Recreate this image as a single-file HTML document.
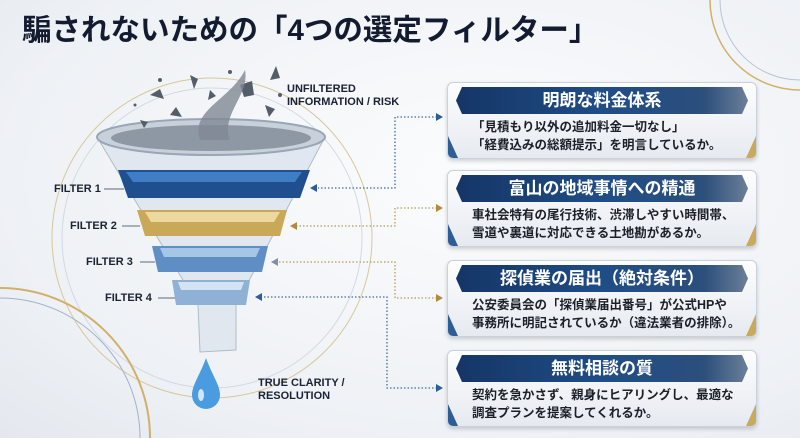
<!DOCTYPE html>
<html style="width:800px;height:438px;overflow:hidden"><head><meta charset="utf-8"><style>
*{margin:0;padding:0;box-sizing:border-box}
body{width:800px;height:438px;overflow:hidden;background:radial-gradient(ellipse at 60% 40%,#fbfcfd 0%,#eef1f5 70%,#e4e8ee 100%);font-family:"Liberation Sans","Noto Sans CJK JP",sans-serif;position:relative}
h1{position:absolute;left:22px;top:13px;font-size:29.5px;line-height:36px;font-weight:bold;color:#121b30;white-space:nowrap}
.box{position:absolute;left:447px;width:310px;height:77px;border-radius:6px;background:linear-gradient(#fdfdfe,#e6eaf0);border:1px solid #c9d1dc;box-shadow:0 2px 4px rgba(0,0,0,.18);overflow:hidden}
.box:before{content:"";position:absolute;left:0;bottom:0;width:10px;height:22px;background:#2d5c96;clip-path:polygon(0 0,100% 100%,0 100%)}
.box:after{content:"";position:absolute;right:0;bottom:0;width:10px;height:22px;background:#c9a95c;clip-path:polygon(100% 0,100% 100%,0 100%)}
.hd{position:absolute;left:8px;top:4px;width:292px;height:27px;background:linear-gradient(90deg,#153566,#1f4d86 50%,#2c4f7c 85%,#6b7f99);color:#fff;font-weight:bold;font-size:17px;text-align:center;line-height:27px;clip-path:polygon(6px 0,calc(100% - 6px) 0,100% 50%,calc(100% - 6px) 100%,6px 100%,0 50%)}
.bd{position:absolute;left:24px;top:35px;font-size:12.5px;line-height:18px;color:#1b1f28;font-weight:bold;white-space:nowrap}
.lbl{position:absolute;font-size:11px;font-weight:bold;color:#1a2233;white-space:nowrap}
</style></head><body>
<h1>騙されないための「4つの選定フィルター」</h1>
<svg width="800" height="438" style="position:absolute;left:0;top:0;display:block">
<circle cx="212" cy="238" r="160" fill="none" stroke="#d8c79a" stroke-width="1"/>
<circle cx="212" cy="238" r="150" fill="none" stroke="#d2d9e3" stroke-width="1"/>
<circle cx="0" cy="438" r="150" fill="none" stroke="#d2b06a" stroke-width="2"/>
<circle cx="0" cy="438" r="140" fill="none" stroke="#9eb3cc" stroke-width="1"/>
<circle cx="800" cy="0" r="90" fill="none" stroke="#d2b06a" stroke-width="1.5"/>
<circle cx="800" cy="0" r="80" fill="none" stroke="#b7c4d6" stroke-width="1"/>
<polygon points="97,137 325,137 236,305 236,350 200,352 198,305" fill="#dfe6ef" stroke="#a9b6c6" stroke-width="1" opacity=".9"/>
<ellipse cx="211" cy="137" rx="114" ry="18" fill="#c8d0da" stroke="#98a6b8" stroke-width="2"/>
<ellipse cx="211" cy="138" rx="100" ry="13" fill="#8e98a5"/>
<g fill="#555d68">
<path d="M150 95 l10 -6 4 10z"/><path d="M190 75 l8 4 -4 10z"/><path d="M240 85 l12 -4 2 14 -10 2z"/><path d="M170 115 l6 -8 6 10z"/><path d="M265 105 l10 4 -6 8z"/><path d="M210 90 l6 6 -8 4z"/><path d="M140 120 l8 2 -4 6z"/><path d="M270 80 l6 -14 4 12z"/>
<circle cx="160" cy="80" r="2"/><circle cx="230" cy="72" r="2"/><circle cx="280" cy="95" r="2"/><circle cx="135" cy="105" r="1.5"/>
</g>
<path d="M200 140 C190 110 230 100 245 70 C250 95 220 115 230 140 Z" fill="#7f8893" opacity=".8"/>
<polygon points="118,170 310,170 300,198 128,198" fill="#1f4f8f"/>
<polygon points="126,172 302,172 295,182 133,182" fill="#3f7dc4"/>
<polygon points="137,210 287,210 280,236 145,236" fill="#c9a858"/>
<polygon points="145,212 280,212 274,222 151,222" fill="#ecd9a0"/>
<polygon points="152,246 268,246 262,272 158,272" fill="#5e8ec4"/>
<polygon points="160,248 260,248 256,257 164,257" fill="#a6c6e6"/>
<polygon points="172,280 250,280 246,305 176,305" fill="#8fb1d6"/>
<polygon points="178,282 244,282 241,290 181,290" fill="#d3e3f2"/>
<path d="M206 358 C200 375 192 385 192 395 a14 14 0 0 0 28 0 C220 385 212 375 206 358Z" fill="#4b9be0"/>
<ellipse cx="201" cy="395" rx="3" ry="6" fill="#cfe8ff"/>
<g stroke="#5d6a7c" stroke-width="1">
<line x1="104" y1="189" x2="124" y2="189"/><line x1="122" y1="226" x2="140" y2="226"/><line x1="140" y1="262" x2="155" y2="262"/><line x1="158" y1="298" x2="175" y2="298"/>
</g>
<g fill="none" stroke-width="1.3" stroke-dasharray="1.5 2">
<polyline points="437,117 395,117 395,188 318,188" stroke="#3e6a9e"/>
<polyline points="437,208 395,208 395,226 296,226" stroke="#b99a55"/>
<polyline points="437,298 395,298 395,262 278,262" stroke="#b99a55"/>
<polyline points="437,388 387,388 387,297 262,297" stroke="#3e6a9e"/>
</g>
<g>
<polygon points="443,117 436,113 436,121" fill="#2d5c96"/>
<polygon points="443,208 436,204 436,212" fill="#b08c40"/>
<polygon points="443,298 436,294 436,302" fill="#b08c40"/>
<polygon points="443,388 436,384 436,392" fill="#2d5c96"/>
<polygon points="310,188 317,184 317,192" fill="#2d5c96"/>
<polygon points="290,226 297,222 297,230" fill="#b08c40"/>
<polygon points="271,262 278,258 278,266" fill="#7f8fa5"/>
<polygon points="255,297 262,293 262,301" fill="#2d5c96"/>
</g>
</svg>
<div class="lbl" style="left:287px;top:83px;line-height:13px">UNFILTERED<br>INFORMATION / RISK</div>
<div class="lbl" style="left:54px;top:183px">FILTER 1</div>
<div class="lbl" style="left:70px;top:220px">FILTER 2</div>
<div class="lbl" style="left:86px;top:256px">FILTER 3</div>
<div class="lbl" style="left:105px;top:292px">FILTER 4</div>
<div class="lbl" style="left:258px;top:377px;line-height:13px">TRUE CLARITY /<br>RESOLUTION</div>

<div class="box" style="top:82px"><div class="hd">明朗な料金体系</div><div class="bd">「見積もり以外の追加料金一切なし」<br>「経費込みの総額提示」を明言しているか。</div></div>
<div class="box" style="top:170px"><div class="hd">富山の地域事情への精通</div><div class="bd">車社会特有の尾行技術、渋滞しやすい時間帯、<br>雪道や裏道に対応できる土地勘があるか。</div></div>
<div class="box" style="top:260px"><div class="hd">探偵業の届出（絶対条件）</div><div class="bd">公安委員会の「探偵業届出番号」が公式HPや<br>事務所に明記されているか（違法業者の排除）。</div></div>
<div class="box" style="top:350px"><div class="hd">無料相談の質</div><div class="bd">契約を急かさず、親身にヒアリングし、最適な<br>調査プランを提案してくれるか。</div></div>
</body></html>
